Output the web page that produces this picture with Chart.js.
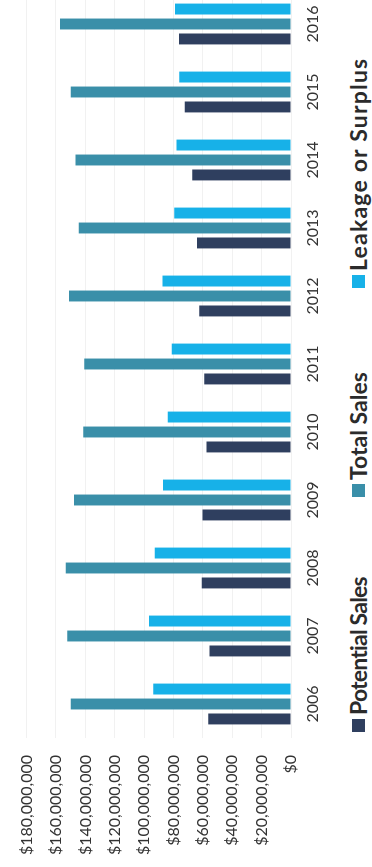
<!DOCTYPE html>
<html>
<head>
<meta charset="utf-8">
<script src="https://cdn.jsdelivr.net/npm/chart.js@4.4.1/dist/chart.umd.min.js"></script>
<style>
  html, body { margin: 0; padding: 0; background: #fff; overflow: hidden; }
  body { width: 372px; height: 867px; position: relative; }
  /* chart is laid out landscape and turned a quarter turn */
  #wrap {
    position: absolute; left: 0; top: 0;
    width: 877px; height: 385px;
    transform-origin: 0 0;
    transform: translate(0, 867px) rotate(-90deg);
  }
  #salesChart { position: absolute; left: 0; top: 0; }
  #legend {
    position: absolute; left: 0; top: 345px; width: 877px; height: 26px;
    font-family: Lato, sans-serif; font-weight: bold; font-size: 23px;
    color: #2b2b2b; white-space: nowrap; line-height: 26px;
  }
  #legend .item { position: absolute; top: 0; display: flex; align-items: center; height: 26px; }
  #legend .box { width: 13px; height: 13px; margin-right: 4px; }
</style>
</head>
<body>
<div id="wrap">
  <canvas id="salesChart" width="877" height="330"></canvas>
  <div id="legend"></div>
</div>
<script>
const years = ["2006", "2007", "2008", "2009", "2010", "2011", "2012", "2013", "2014", "2015", "2016"];
const potentialSales = [56300000, 55400000, 60700000, 60200000, 57600000, 59100000, 62400000, 64000000, 67300000, 72300000, 76300000];
const totalSales = [150000000, 152400000, 153300000, 147800000, 141400000, 140800000, 151100000, 144500000, 146700000, 150000000, 157300000];
const leakageSurplus = [93800000, 96600000, 92700000, 87200000, 83900000, 81200000, 87400000, 79400000, 77900000, 76100000, 79000000];

// where each legend entry starts along the legend row, and its letter spacing
const legendOffsets = [135, 370, 579];
const legendTracking = [-0.8, 0, 1.2];

const ctx = document.getElementById("salesChart").getContext("2d");

function money(v) {
    return "$" + new Intl.NumberFormat("en-US").format(v);
}

const chart = new Chart(ctx, {
    type: "bar",
    data: {
        labels: years,
        datasets: [
            { label: "Potential Sales", data: potentialSales, backgroundColor: "#2f3f5f" },
            { label: "Total Sales", data: totalSales, backgroundColor: "#3a8fa9" },
            { label: "Leakage or Surplus", data: leakageSurplus, backgroundColor: "#17b1e8" }
        ]
    },
    options: {
        responsive: false,
        animation: false,
        categoryPercentage: 0.66,
        barPercentage: 0.73,
        layout: { padding: { top: 19, right: 0, bottom: 0, left: 0 } },
        plugins: {
            tooltip: { enabled: false },
            legend: { display: false }
        },
        scales: {
            x: {
                grid: { display: false, drawTicks: false },
                border: { display: false },
                ticks: {
                    color: "#333",
                    padding: 12,
                    maxRotation: 0,
                    autoSkip: false,
                    font: { family: "Lato", size: 16 }
                },
                afterFit: (scale) => { scale.height = 39; }
            },
            y: {
                min: 0,
                max: 180000000,
                grid: { color: "#f1f1f1", drawTicks: false },
                border: { display: false },
                ticks: {
                    stepSize: 20000000,
                    color: "#333",
                    padding: 17,
                    font: { family: "Lato", size: 16 },
                    callback: (v) => money(v)
                },
                afterFit: (scale) => { scale.width = 129; }
            }
        }
    }
});

// legend as html, built from the datasets
const legendEl = document.getElementById("legend");
chart.data.datasets.forEach((ds, i) => {
    const item = document.createElement("div");
    item.className = "item";
    item.style.left = legendOffsets[i] + "px";
    const box = document.createElement("span");
    box.className = "box";
    box.style.background = ds.backgroundColor;
    const text = document.createElement("span");
    text.textContent = ds.label;
    text.style.letterSpacing = legendTracking[i] + "px";
    item.appendChild(box);
    item.appendChild(text);
    legendEl.appendChild(item);
});
</script>
</body>
</html>
